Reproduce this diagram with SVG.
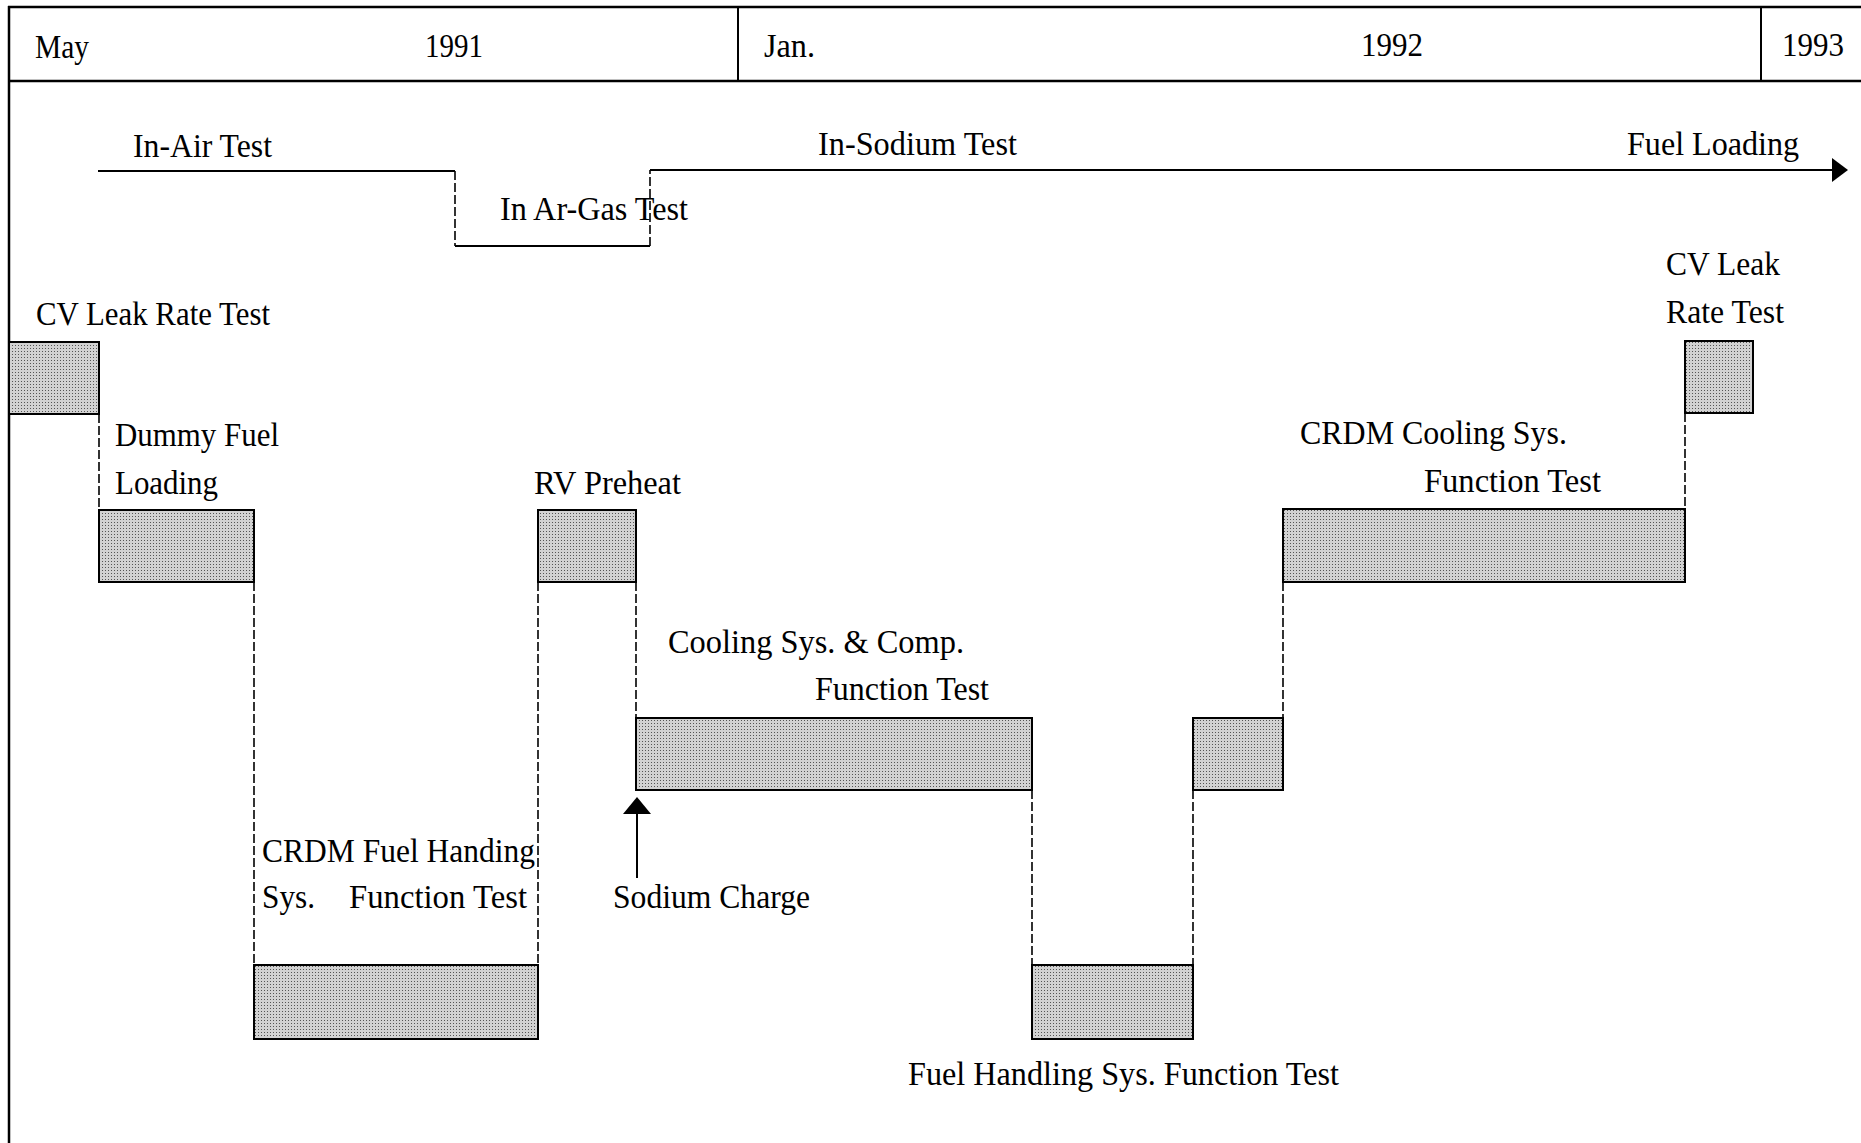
<svg xmlns="http://www.w3.org/2000/svg" width="1861" height="1143" viewBox="0 0 1861 1143">
  <defs>
    <pattern id="dots" width="3" height="3" patternUnits="userSpaceOnUse">
      <rect width="3" height="3" fill="#d2d2d2"/>
      <rect width="1" height="1" fill="#555"/>
    </pattern>
    <style>
      text { font-family: "Liberation Serif", "Times New Roman", serif; font-size: 33px; fill: #000; }
      .bar { fill: url(#dots); stroke: #000; stroke-width: 2; }
      .dash { fill: none; stroke: #000; stroke-width: 1.6; stroke-dasharray: 9 3; }
      .solid { fill: none; stroke: #000; stroke-width: 2; }
      .frame { fill: none; stroke: #000; stroke-width: 2.5; }
    </style>
  </defs>
  <rect width="1861" height="1143" fill="#fff"/>

  <g id="header">
    <line class="frame" x1="8" y1="7" x2="1861" y2="7"/>
    <line class="frame" x1="8" y1="81" x2="1861" y2="81"/>
    <line class="frame" x1="9" y1="6" x2="9" y2="1143"/>
    <line class="solid" x1="738" y1="7" x2="738" y2="81"/>
    <line class="solid" x1="1761" y1="7" x2="1761" y2="81"/>
    <text x="35" y="58" textLength="54" lengthAdjust="spacingAndGlyphs">May</text>
    <text x="425" y="57" textLength="58" lengthAdjust="spacingAndGlyphs">1991</text>
    <text x="764" y="57" textLength="51" lengthAdjust="spacingAndGlyphs">Jan.</text>
    <text x="1361" y="56" textLength="62" lengthAdjust="spacingAndGlyphs">1992</text>
    <text x="1782" y="56" textLength="62" lengthAdjust="spacingAndGlyphs">1993</text>
  </g>

  <g id="phase-line">
    <text x="133" y="157" textLength="139" lengthAdjust="spacingAndGlyphs">In-Air Test</text>
    <text x="500" y="220" textLength="188" lengthAdjust="spacingAndGlyphs">In Ar-Gas Test</text>
    <text x="818" y="155" textLength="199" lengthAdjust="spacingAndGlyphs">In-Sodium Test</text>
    <text x="1627" y="155" textLength="172" lengthAdjust="spacingAndGlyphs">Fuel Loading</text>
  </g>

  <g id="connectors">
    <line class="solid" x1="98" y1="171" x2="455" y2="171"/>
    <line class="dash" x1="455" y1="171" x2="455" y2="246"/>
    <line class="solid" x1="455" y1="246" x2="650" y2="246"/>
    <line class="dash" x1="650" y1="246" x2="650" y2="170"/>
    <line class="solid" x1="650" y1="170" x2="1834" y2="170"/>
    <polygon points="1832,158 1848,170 1832,182" fill="#000"/>

    <line class="dash" x1="99" y1="414" x2="99" y2="510"/>
    <line class="dash" x1="254" y1="582" x2="254" y2="965"/>
    <line class="dash" x1="538" y1="582" x2="538" y2="965"/>
    <line class="dash" x1="636" y1="582" x2="636" y2="718"/>
    <line class="dash" x1="1032" y1="790" x2="1032" y2="965"/>
    <line class="dash" x1="1193" y1="790" x2="1193" y2="965"/>
    <line class="dash" x1="1283" y1="582" x2="1283" y2="718"/>
    <line class="dash" x1="1685" y1="413" x2="1685" y2="509"/>

    <line class="solid" x1="637" y1="812" x2="637" y2="878"/>
    <polygon points="637,797 651,814 623,814" fill="#000"/>
  </g>

  <g id="cv-leak-1">
    <rect class="bar" x="9" y="342" width="90" height="72"/>
    <text x="36" y="325" textLength="234" lengthAdjust="spacingAndGlyphs">CV Leak Rate Test</text>
  </g>

  <g id="dummy-fuel">
    <rect class="bar" x="99" y="510" width="155" height="72"/>
    <text x="115" y="446" textLength="164" lengthAdjust="spacingAndGlyphs">Dummy Fuel</text>
    <text x="115" y="494" textLength="103" lengthAdjust="spacingAndGlyphs">Loading</text>
  </g>

  <g id="rv-preheat">
    <rect class="bar" x="538" y="510" width="98" height="72"/>
    <text x="534" y="494" textLength="147" lengthAdjust="spacingAndGlyphs">RV Preheat</text>
  </g>

  <g id="crdm-fuel-handling">
    <rect class="bar" x="254" y="965" width="284" height="74"/>
    <text x="262" y="862" textLength="273" lengthAdjust="spacingAndGlyphs">CRDM Fuel Handing</text>
    <text x="262" y="908" textLength="53" lengthAdjust="spacingAndGlyphs">Sys.</text>
    <text x="349" y="908" textLength="178" lengthAdjust="spacingAndGlyphs">Function Test</text>
  </g>

  <g id="sodium-charge">
    <text x="613" y="908" textLength="197" lengthAdjust="spacingAndGlyphs">Sodium Charge</text>
  </g>

  <g id="cooling-sys">
    <rect class="bar" x="636" y="718" width="396" height="72"/>
    <text x="668" y="653" textLength="296" lengthAdjust="spacingAndGlyphs">Cooling Sys. &amp; Comp.</text>
    <text x="815" y="700" textLength="174" lengthAdjust="spacingAndGlyphs">Function Test</text>
  </g>

  <g id="fuel-handling">
    <rect class="bar" x="1032" y="965" width="161" height="74"/>
    <text x="908" y="1085" textLength="431" lengthAdjust="spacingAndGlyphs">Fuel Handling Sys. Function Test</text>
  </g>

  <g id="short-step">
    <rect class="bar" x="1193" y="718" width="90" height="72"/>
  </g>

  <g id="crdm-cooling">
    <rect class="bar" x="1283" y="509" width="402" height="73"/>
    <text x="1300" y="444" textLength="267" lengthAdjust="spacingAndGlyphs">CRDM Cooling Sys.</text>
    <text x="1424" y="492" textLength="177" lengthAdjust="spacingAndGlyphs">Function Test</text>
  </g>

  <g id="cv-leak-2">
    <rect class="bar" x="1685" y="341" width="68" height="72"/>
    <text x="1666" y="275" textLength="114" lengthAdjust="spacingAndGlyphs">CV Leak</text>
    <text x="1666" y="323" textLength="118" lengthAdjust="spacingAndGlyphs">Rate Test</text>
  </g>
</svg>
